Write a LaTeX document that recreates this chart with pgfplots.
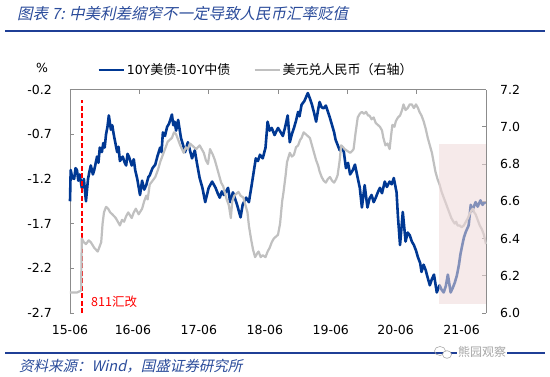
\documentclass[border=0pt]{standalone}
\usepackage{pgfplots}
\pgfplotsset{compat=1.18}
\usepackage{fontspec}
\setmainfont{DejaVu Sans}
\newfontfamily\cjk{Noto Sans CJK SC}
\newfontfamily\cjkit[FakeSlant=0.22]{Noto Sans CJK SC}
\definecolor{navy}{HTML}{003893}
\definecolor{lgray}{HTML}{C0C0C0}
\definecolor{hdrblue}{HTML}{2B4C9B}
\definecolor{rulblue}{HTML}{1F3F96}
\definecolor{pinkshade}{HTML}{EFD9D9}
\definecolor{axgray}{HTML}{8C8C8C}
\begin{document}
\begin{tikzpicture}[x=1pt,y=1pt]
\useasboundingbox (0,0) rectangle (550,376);
\fill[white] (0,0) rectangle (550,376);
\node[anchor=west, inner sep=0pt, text=hdrblue, font=\cjkit\fontsize{15.5}{17}\selectfont] at (17,362) {图表 7: 中美利差缩窄不一定导致人民币汇率贬值};
\draw[rulblue, line width=1.8pt] (5,345) -- (545,345);
\draw[rulblue, line width=1.8pt] (5,23.3) -- (545,23.3);
\node[anchor=west, inner sep=0pt, text=hdrblue, font=\cjkit\fontsize{14.5}{16}\selectfont] at (19,10) {资料来源：Wind，国盛证券研究所};
\node[anchor=west, inner sep=1pt, fill=white, text=black!35, font=\cjk\fontsize{12}{13}\selectfont] at (457,24) {熊园观察};
\draw[black!35, line width=0.6pt] (440,25) ellipse (5.5 and 4.5);
\draw[black!35, line width=0.6pt, fill=white] (447,21.5) ellipse (4.5 and 3.8);
\node[inner sep=0pt, font=\fontsize{12.5}{14}\selectfont] at (42,308) {\%};

\begin{axis}[at={(70pt,63pt)}, anchor=south west, width=416pt, height=223.5pt, scale only axis,
  xmin=0, xmax=6, ymin=-2.7, ymax=-0.2,
  axis y line*=left, axis x line*=bottom,
  x axis line style={draw=none},
  y axis line style={axgray, line width=0.8pt},
  xtick={0,0.908,1.859,2.810,3.761,4.697,5.648},
  xticklabels={15-06,16-06,17-06,18-06,19-06,20-06,21-06},
  x tick style={draw=none},
  ytick={-2.7,-2.2,-1.7,-1.2,-0.7,-0.2},
  yticklabels={-2.7,-2.2,-1.7,-1.2,-0.7,-0.2},
  tick align=inside, major tick length=4pt,
  y tick style={axgray, line width=0.7pt},
  ticklabel style={font=\fontsize{12.5}{14}\selectfont, inner sep=0pt},
  yticklabel style={anchor=east, xshift=-18pt},
  xticklabel style={anchor=north, yshift=-12pt},
  clip=false]
\addplot[navy, line width=2.6pt, line join=round] coordinates {
(0.00,-1.45) (0.01,-1.10) (0.03,-1.18) (0.06,-1.20) (0.08,-1.08) (0.10,-1.10) (0.12,-1.22) (0.14,-1.15) (0.17,-1.30) (0.20,-1.20) (0.23,-1.45) (0.26,-1.20) (0.28,-1.12) (0.30,-1.05) (0.33,-1.15) (0.35,-1.10) (0.39,-0.95) (0.41,-1.02) (0.43,-0.85) (0.46,-0.90) (0.48,-0.80) (0.50,-0.85) (0.52,-0.70) (0.54,-0.62) (0.56,-0.49) (0.59,-0.65) (0.61,-0.60) (0.63,-0.70) (0.66,-0.82) (0.68,-0.90) (0.70,-0.84) (0.72,-1.00) (0.76,-0.95) (0.79,-1.02) (0.81,-1.05) (0.83,-0.92) (0.85,-0.95) (0.89,-1.05) (0.92,-0.98) (0.94,-1.10) (0.97,-1.20) (1.01,-1.38) (1.04,-1.22) (1.07,-1.32) (1.10,-1.27) (1.13,-1.18) (1.15,-1.16) (1.19,-1.08) (1.23,-1.04) (1.26,-0.95) (1.30,-0.85) (1.32,-0.90) (1.34,-0.68) (1.37,-0.72) (1.40,-0.62) (1.43,-0.58) (1.47,-0.48) (1.49,-0.60) (1.51,-0.56) (1.53,-0.66) (1.56,-0.54) (1.60,-0.74) (1.63,-0.82) (1.66,-0.90) (1.70,-0.79) (1.73,-0.88) (1.76,-0.97) (1.80,-0.88) (1.83,-1.02) (1.87,-1.19) (1.91,-1.30) (1.95,-1.46) (2.00,-1.30) (2.05,-1.23) (2.10,-1.30) (2.13,-1.36) (2.16,-1.41) (2.19,-1.34) (2.22,-1.38) (2.28,-1.30) (2.31,-1.46) (2.35,-1.35) (2.38,-1.42) (2.41,-1.49) (2.46,-1.63) (2.49,-1.49) (2.54,-1.41) (2.58,-1.46) (2.62,-1.27) (2.65,-1.12) (2.68,-0.97) (2.71,-1.00) (2.74,-0.93) (2.78,-0.97) (2.82,-0.85) (2.85,-0.56) (2.88,-0.66) (2.91,-0.63) (2.95,-0.71) (3.00,-0.63) (3.04,-0.68) (3.07,-0.72) (3.10,-0.63) (3.14,-0.49) (3.17,-0.79) (3.20,-0.70) (3.23,-0.63) (3.26,-0.55) (3.29,-0.45) (3.31,-0.50) (3.34,-0.37) (3.38,-0.33) (3.43,-0.24) (3.46,-0.30) (3.49,-0.37) (3.52,-0.46) (3.55,-0.56) (3.58,-0.42) (3.60,-0.34) (3.63,-0.40) (3.66,-0.41) (3.69,-0.38) (3.72,-0.45) (3.75,-0.52) (3.78,-0.60) (3.81,-0.68) (3.83,-0.76) (3.86,-0.82) (3.89,-0.88) (3.92,-0.84) (3.95,-0.90) (3.98,-1.08) (4.01,-1.02) (4.04,-1.15) (4.08,-1.10) (4.11,-1.04) (4.15,-1.19) (4.18,-1.30) (4.21,-1.52) (4.25,-1.27) (4.29,-1.52) (4.32,-1.42) (4.35,-1.38) (4.38,-1.46) (4.41,-1.41) (4.44,-1.35) (4.47,-1.30) (4.50,-1.36) (4.54,-1.23) (4.57,-1.29) (4.61,-1.23) (4.64,-1.26) (4.67,-1.19) (4.71,-1.35) (4.73,-1.62) (4.76,-1.94) (4.80,-1.57) (4.84,-1.90) (4.87,-1.80) (4.90,-1.83) (4.93,-1.90) (4.96,-1.94) (4.99,-2.00) (5.02,-2.08) (5.05,-2.14) (5.07,-2.24) (5.10,-2.16) (5.13,-2.22) (5.15,-2.28) (5.19,-2.39) (5.22,-2.32) (5.25,-2.27) (5.29,-2.47) (5.33,-2.39) (5.36,-2.44) (5.39,-2.47) (5.42,-2.40) (5.45,-2.27) (5.49,-2.47) (5.52,-2.42) (5.55,-2.36) (5.58,-2.28) (5.61,-2.16) (5.63,-2.05) (5.65,-1.97) (5.68,-1.86) (5.71,-1.79) (5.75,-1.72) (5.78,-1.49) (5.80,-1.56) (5.82,-1.52) (5.85,-1.46) (5.88,-1.51) (5.92,-1.44) (5.95,-1.49) (5.98,-1.46) (6.00,-1.47)};
\addplot[red, line width=1.8pt, dash pattern=on 5pt off 2.5pt] coordinates {(0.173,-2.7) (0.173,-0.32)};
\end{axis}

\begin{axis}[at={(70pt,63pt)}, anchor=south west, width=416pt, height=223.5pt, scale only axis,
  xmin=0, xmax=6, ymin=6.0, ymax=7.2,
  axis y line*=right, axis x line*=top,
  axis line style={axgray, line width=0.8pt},
  xtick={1,2,3,4,5}, xticklabels={},
  ytick={6.0,6.2,6.4,6.6,6.8,7.0,7.2},
  yticklabels={6.0,6.2,6.4,6.6,6.8,7.0,7.2},
  tick align=inside, major tick length=4pt,
  tick style={axgray, line width=0.7pt},
  ticklabel style={font=\fontsize{12.5}{14}\selectfont, inner sep=0pt},
  yticklabel style={anchor=west, xshift=14pt},
  legend style={at={(0.065,1.087)}, anchor=west, draw=none, fill=none, inner sep=0pt,
    font=\fontsize{12.5}{14}\selectfont, /tikz/every even column/.append style={column sep=21pt}},
  legend columns=2,
  legend image code/.code={\draw[#1] (0pt,0pt) -- (25pt,0pt);},
  clip=false]
\addlegendimage{navy, line width=2.6pt}
\addlegendentry{10Y{\cjk\fontsize{13}{14}\selectfont 美债}-10Y{\cjk\fontsize{13}{14}\selectfont 中债}}
\addplot[lgray, line width=2.2pt, line join=round] coordinates {
(0.00,6.11) (0.05,6.11) (0.10,6.11) (0.16,6.12) (0.17,6.40) (0.20,6.38) (0.23,6.37) (0.27,6.39) (0.30,6.38) (0.35,6.35) (0.40,6.33) (0.43,6.36) (0.45,6.38) (0.47,6.48) (0.49,6.54) (0.52,6.57) (0.55,6.56) (0.58,6.54) (0.61,6.53) (0.66,6.51) (0.69,6.49) (0.72,6.47) (0.75,6.50) (0.78,6.49) (0.81,6.52) (0.84,6.54) (0.89,6.51) (0.92,6.54) (0.95,6.56) (0.99,6.53) (1.04,6.56) (1.07,6.60) (1.10,6.63) (1.12,6.61) (1.15,6.69) (1.19,6.71) (1.23,6.73) (1.27,6.77) (1.30,6.81) (1.33,6.84) (1.35,6.86) (1.38,6.89) (1.41,6.92) (1.47,6.94) (1.50,6.97) (1.53,6.96) (1.56,6.93) (1.59,6.90) (1.64,6.86) (1.67,6.89) (1.70,6.88) (1.73,6.91) (1.76,6.90) (1.82,6.88) (1.87,6.90) (1.90,6.88) (1.93,6.86) (1.96,6.82) (1.99,6.80) (2.02,6.88) (2.06,6.85) (2.09,6.82) (2.12,6.78) (2.15,6.74) (2.18,6.70) (2.21,6.68) (2.23,6.65) (2.26,6.61) (2.29,6.58) (2.32,6.51) (2.34,6.60) (2.37,6.63) (2.40,6.64) (2.43,6.65) (2.46,6.63) (2.50,6.62) (2.53,6.58) (2.56,6.54) (2.58,6.47) (2.61,6.40) (2.64,6.34) (2.67,6.30) (2.70,6.32) (2.72,6.33) (2.75,6.30) (2.78,6.31) (2.82,6.30) (2.85,6.33) (2.88,6.35) (2.91,6.38) (2.94,6.40) (2.97,6.41) (3.00,6.42) (3.03,6.48) (3.06,6.60) (3.08,6.65) (3.11,6.74) (3.13,6.81) (3.17,6.86) (3.20,6.84) (3.23,6.85) (3.26,6.89) (3.29,6.90) (3.32,6.93) (3.34,6.94) (3.37,6.97) (3.40,6.96) (3.43,6.95) (3.46,6.94) (3.49,6.90) (3.52,6.86) (3.55,6.82) (3.58,6.79) (3.60,6.76) (3.63,6.73) (3.66,6.71) (3.69,6.70) (3.72,6.72) (3.75,6.73) (3.78,6.71) (3.81,6.70) (3.84,6.72) (3.86,6.74) (3.89,6.82) (3.91,6.90) (3.94,6.89) (3.96,6.88) (4.00,6.87) (4.04,6.86) (4.07,6.87) (4.09,6.88) (4.12,6.97) (4.15,7.05) (4.18,7.07) (4.21,7.08) (4.24,7.07) (4.27,7.08) (4.30,7.06) (4.32,7.06) (4.35,7.04) (4.38,7.05) (4.41,7.02) (4.44,7.01) (4.47,7.00) (4.50,6.98) (4.52,6.94) (4.55,6.90) (4.58,6.91) (4.61,6.88) (4.63,6.95) (4.65,7.01) (4.68,7.00) (4.70,7.03) (4.73,7.05) (4.76,7.06) (4.79,7.09) (4.81,7.12) (4.84,7.09) (4.87,7.10) (4.90,7.12) (4.93,7.12) (4.96,7.10) (4.99,7.12) (5.02,7.10) (5.04,7.08) (5.07,7.06) (5.10,7.03) (5.13,6.99) (5.16,6.94) (5.19,6.90) (5.22,6.86) (5.25,6.80) (5.27,6.76) (5.30,6.72) (5.33,6.69) (5.36,6.65) (5.39,6.62) (5.42,6.59) (5.45,6.56) (5.48,6.53) (5.50,6.51) (5.53,6.49) (5.55,6.48) (5.57,6.49) (5.59,6.47) (5.62,6.47) (5.65,6.46) (5.68,6.47) (5.71,6.49) (5.74,6.51) (5.76,6.53) (5.79,6.55) (5.81,6.56) (5.83,6.54) (5.85,6.53) (5.88,6.50) (5.91,6.47) (5.94,6.45) (5.97,6.42) (6.00,6.37)};
\addlegendentry{{\cjk\fontsize{13}{14}\selectfont 美元兑人民币（右轴）}}
\fill[pinkshade, opacity=0.55] (axis cs:5.32,6.05) rectangle (axis cs:6,6.91);
\end{axis}
\node[anchor=west, inner sep=0pt, text=red, font=\cjk\fontsize{12.5}{14}\selectfont] at (91,74) {811汇改};
\end{tikzpicture}
\end{document}
